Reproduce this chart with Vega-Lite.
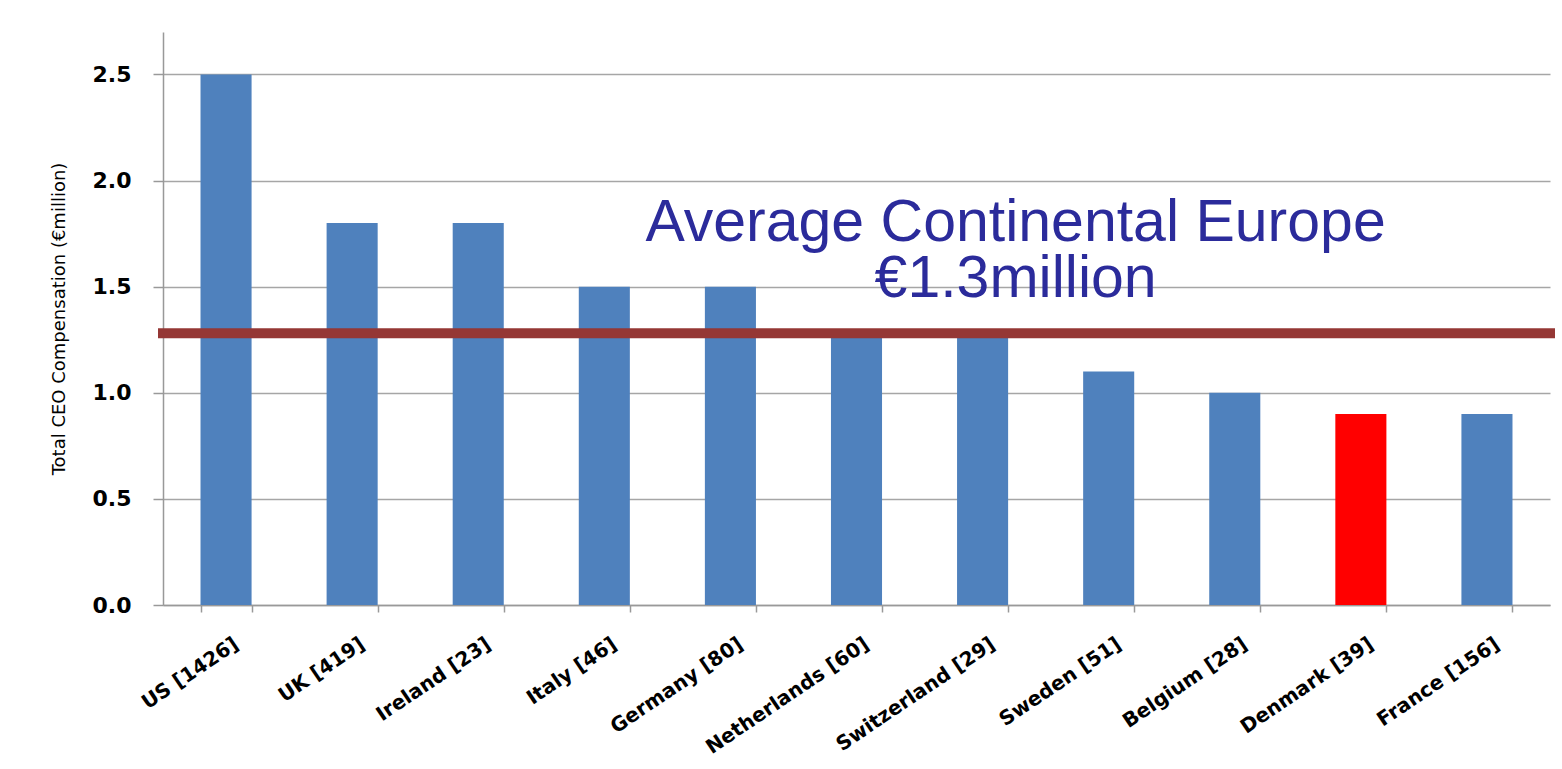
{
  "$schema": "https://vega.github.io/schema/vega-lite/v6.json",
  "width": 1387,
  "height": 573,
  "autosize": {"type": "none"},
  "padding": {"left": 163, "top": 32, "right": 12, "bottom": 164},
  "background": "white",
  "config": {"view": {"stroke": null}},
  "datasets": {
    "bars": [
      {"country": "US [1426]", "value": 2.5, "highlight": "no"},
      {"country": "UK [419]", "value": 1.8, "highlight": "no"},
      {"country": "Ireland [23]", "value": 1.8, "highlight": "no"},
      {"country": "Italy [46]", "value": 1.5, "highlight": "no"},
      {"country": "Germany [80]", "value": 1.5, "highlight": "no"},
      {"country": "Netherlands [60]", "value": 1.3, "highlight": "no"},
      {"country": "Switzerland [29]", "value": 1.3, "highlight": "no"},
      {"country": "Sweden [51]", "value": 1.1, "highlight": "no"},
      {"country": "Belgium [28]", "value": 1.0, "highlight": "no"},
      {"country": "Denmark [39]", "value": 0.9, "highlight": "yes"},
      {"country": "France [156]", "value": 0.9, "highlight": "no"}
    ],
    "avg": [
      {"avg": 1.28, "country": "Switzerland [29]", "label": ["Average Continental Europe", "€1.3million"]}
    ]
  },
  "layer": [
    {
      "data": {"name": "bars"},
      "mark": {"type": "bar"},
      "encoding": {
        "x": {
          "field": "country",
          "type": "nominal",
          "sort": null,
          "scale": {"paddingInner": 0.595, "paddingOuter": 0.2975},
          "axis": {
            "title": null,
            "labelAngle": -34,
            "labelAlign": "right",
            "labelBaseline": "middle",
            "labelFont": "DejaVu Sans",
            "labelFontWeight": "bold",
            "labelFontSize": 20,
            "labelColor": "black",
            "labelPadding": 30,
            "labelOffset": 10,
            "labelLimit": 400,
            "labelOverlap": false,
            "tickBand": "extent",
            "tickSize": 7,
            "tickColor": "#999999",
            "tickWidth": 1.5,
            "domainColor": "#999999",
            "domainWidth": 1.5,
            "grid": false
          }
        },
        "y": {
          "field": "value",
          "type": "quantitative",
          "scale": {"domain": [0, 2.7], "nice": false},
          "axis": {
            "values": [0, 0.5, 1, 1.5, 2, 2.5],
            "format": ".1f",
            "title": "Total CEO Compensation (€million)",
            "titleFont": "DejaVu Sans",
            "titleFontWeight": "normal",
            "titleFontSize": 18,
            "titleColor": "black",
            "titlePadding": 24,
            "labelFont": "DejaVu Sans",
            "labelFontWeight": "bold",
            "labelFontSize": 22,
            "labelColor": "black",
            "labelPadding": 22,
            "tickSize": 10,
            "tickColor": "#999999",
            "tickWidth": 1.5,
            "domainColor": "#999999",
            "domainWidth": 1.5,
            "gridColor": "#a6a6a6",
            "gridWidth": 1.5
          }
        },
        "color": {
          "field": "highlight",
          "type": "nominal",
          "scale": {"domain": ["no", "yes"], "range": ["#4F81BD", "#FF0000"]},
          "legend": null
        }
      }
    },
    {
      "data": {"name": "avg"},
      "mark": {"type": "rule", "color": "#953735", "strokeWidth": 10, "strokeCap": "square"},
      "encoding": {
        "y": {"field": "avg", "type": "quantitative"}
      }
    },
    {
      "data": {"name": "avg"},
      "mark": {
        "type": "text",
        "font": "Liberation Sans",
        "fontSize": 59,
        "color": "#2B2B9B",
        "align": "center",
        "baseline": "alphabetic",
        "lineHeight": 56,
        "dx": 33,
        "dy": -92
      },
      "encoding": {
        "x": {"field": "country", "type": "nominal", "sort": null},
        "y": {"field": "avg", "type": "quantitative"},
        "text": {"field": "label"}
      }
    }
  ]
}
